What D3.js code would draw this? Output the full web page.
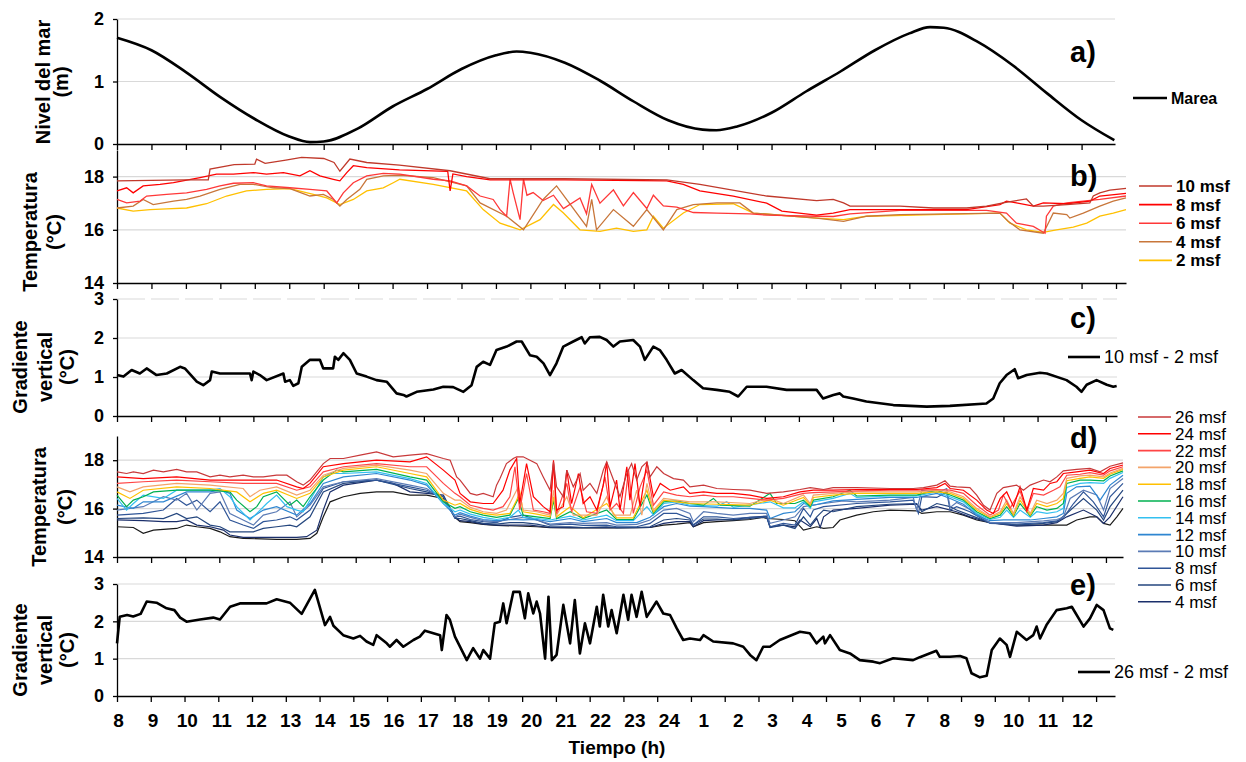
<!DOCTYPE html>
<html>
<head>
<meta charset="utf-8">
<script src="https://cdn.jsdelivr.net/npm/d3@7"></script>
<style>
  body { margin: 0; background: #fff; }
  svg { display: block; }
  text { font-family: "Liberation Sans", Arial, sans-serif; fill: #000; }
</style>
</head>
<body>
<svg id="chart" width="1246" height="762"></svg>
<script>
// hours since 08:00 are used as x; labels are the clock hour
const hourLabels = [8, 9, 10, 11, 12, 13, 14, 15, 16, 17, 18, 19, 20, 21, 22, 23, 24, 1, 2, 3, 4, 5, 6, 7, 8, 9, 10, 11, 12];

// a) sea level (m)
const tide = [[0,1.70],[1,1.50],[2,1.15],[3,0.75],[4,0.40],[5,0.12],[5.6,0.03],[6,0.04],[7,0.25],[8,0.60],[9,0.88],[10,1.20],[11,1.42],[11.6,1.48],[12,1.46],[13,1.30],[14,1.02],[15,0.68],[16,0.38],[17,0.23],[17.4,0.22],[18,0.28],[19,0.50],[20,0.84],[21,1.16],[22,1.50],[23,1.77],[23.6,1.87],[24,1.86],[25,1.63],[26,1.26],[27,0.81],[28,0.38],[28.95,0.06]];

// b) temperature, shallow sensors
const tempB10 = [[0,17.84],[1.0,17.86],[2.0,17.88],[2.65,17.88],[2.7,18.28],[3.4,18.45],[4.0,18.47],[4.05,18.66],[4.3,18.5],[4.9,18.62],[5.36,18.72],[6.0,18.68],[6.3,18.53],[6.47,18.2],[6.76,18.66],[7.25,18.53],[8.2,18.43],[9.67,18.22],[10.83,17.92],[13.0,17.92],[15.96,17.88],[16.92,17.71],[18.86,17.27],[20.31,17.1],[20.79,17.14],[21.09,17.01],[21.28,16.89],[22.73,16.89],[23.7,16.82],[24.66,16.82],[25.24,16.89],[25.72,17.01],[26.02,17.08],[26.4,17.16],[26.6,16.89],[26.89,16.89],[27.57,16.95],[28.24,17.01],[28.34,17.27],[28.53,17.39],[28.82,17.49],[29.29,17.56]];
const tempB8 = [[0,17.46],[0.28,17.58],[0.47,17.39],[0.76,17.65],[1.25,17.71],[1.64,17.77],[2.41,17.96],[2.89,18.09],[3.38,18.09],[3.96,18.15],[4.34,18.09],[4.83,18.15],[5.31,18.03],[5.6,18.22],[5.89,18.03],[6.28,17.9],[6.47,17.84],[6.67,18.15],[6.86,18.41],[7.25,18.34],[8.2,18.25],[9.6,18.2],[9.67,17.46],[9.75,18.1],[10.15,18.0],[10.83,17.88],[13.0,17.88],[15.96,17.84],[16.44,17.71],[16.92,17.46],[17.89,17.27],[18.86,17.0],[19.3,16.7],[20.31,16.55],[20.79,16.63],[21.28,16.76],[22.73,16.76],[24.66,16.76],[25.63,16.95],[25.82,17.08],[26.11,17.01],[26.6,16.89],[26.89,17.01],[27.57,16.98],[28.24,17.08],[28.53,17.27],[29.29,17.37]];
const tempB6 = [[0,17.14],[0.28,17.01],[0.67,17.08],[0.86,17.27],[1.44,17.33],[2.02,17.39],[2.6,17.52],[2.99,17.65],[3.38,17.75],[3.96,17.77],[4.34,17.65],[5.02,17.58],[5.6,17.52],[6.09,17.46],[6.38,17.01],[6.57,17.39],[6.86,17.77],[7.25,18.03],[7.73,18.12],[8.21,18.09],[9.18,17.9],[9.67,17.84],[10.15,17.65],[10.54,17.27],[10.92,17.14],[11.12,16.76],[11.31,16.51],[11.41,17.9],[11.5,17.4],[11.7,16.38],[11.8,17.9],[11.9,17.3],[12.08,17.4],[12.37,17.1],[12.67,17.3],[12.96,16.8],[13.44,17.2],[13.63,16.6],[13.78,17.7],[14.02,17.0],[14.41,17.5],[14.7,16.9],[14.99,17.4],[15.38,16.8],[15.57,17.3],[15.86,16.9],[16.25,16.85],[16.73,16.65],[17.41,16.63],[18.37,16.6],[18.86,16.55],[20.31,16.51],[20.79,16.5],[21.28,16.6],[22.73,16.73],[25.24,16.73],[25.82,16.63],[26.11,16.25],[26.6,16.13],[26.94,15.87],[26.98,16.51],[27.18,16.89],[27.57,17.01],[28.53,17.14],[29.29,17.27]];
const tempB4 = [[0,16.82],[0.47,16.89],[0.76,17.14],[1.05,16.95],[1.64,17.08],[2.02,17.14],[2.41,17.27],[2.99,17.52],[3.57,17.71],[3.96,17.71],[4.54,17.58],[5.02,17.55],[5.6,17.27],[5.99,17.33],[6.28,17.14],[6.47,16.89],[6.67,17.14],[7.05,17.52],[7.25,17.9],[7.73,18.03],[8.21,18.05],[9.18,17.96],[10.15,17.65],[10.54,17.01],[11.31,16.51],[11.8,16.0],[12.37,17.14],[12.76,17.65],[13.05,17.14],[13.63,16.13],[13.78,17.14],[13.92,16.0],[14.41,16.76],[14.99,16.13],[15.38,16.76],[15.86,16.0],[16.25,16.76],[16.73,16.95],[17.41,17.01],[18.08,17.01],[18.47,16.63],[20.31,16.44],[21.09,16.32],[21.76,16.51],[22.73,16.57],[25.63,16.63],[25.87,16.32],[26.21,16.0],[26.89,15.87],[27.18,16.63],[27.57,16.57],[27.66,16.44],[28.05,16.63],[28.53,16.89],[28.92,17.08],[29.29,17.2]];
const tempB2 = [[0,16.82],[0.47,16.7],[0.96,16.76],[1.44,16.79],[2.02,16.82],[2.6,16.98],[3.18,17.27],[3.76,17.46],[4.34,17.52],[5.02,17.55],[5.7,17.33],[6.09,17.2],[6.47,16.95],[6.86,17.14],[7.25,17.46],[7.73,17.58],[8.02,17.77],[8.21,17.9],[9.18,17.71],[10.15,17.46],[10.63,16.76],[11.12,16.25],[11.7,16.0],[12.28,16.38],[12.67,16.95],[12.96,16.63],[13.44,16.0],[14.02,15.94],[14.5,16.06],[14.99,15.94],[15.38,16.0],[15.57,16.51],[15.86,16.06],[16.44,16.63],[16.92,16.95],[17.89,16.98],[18.47,16.63],[20.31,16.44],[21.09,16.38],[21.76,16.51],[23.7,16.57],[25.63,16.63],[25.92,16.25],[26.4,16.0],[26.89,15.9],[27.27,16.0],[27.76,16.1],[28.15,16.25],[28.53,16.51],[28.92,16.63],[29.29,16.76]];

// c) vertical gradient 10 msf - 2 msf
const gradC = [[0,1.05],[0.19,1.01],[0.43,1.18],[0.67,1.09],[0.87,1.22],[1.16,1.05],[1.46,1.09],[1.85,1.26],[1.99,1.22],[2.34,0.88],[2.53,0.79],[2.73,0.92],[2.78,1.14],[3.02,1.09],[3.41,1.09],[3.9,1.09],[3.95,0.92],[4.0,1.14],[4.19,1.05],[4.39,0.92],[4.88,1.09],[4.93,0.88],[5.07,0.92],[5.17,0.77],[5.32,0.84],[5.42,1.26],[5.66,1.44],[5.95,1.44],[6.05,1.22],[6.34,1.22],[6.39,1.52],[6.49,1.44],[6.64,1.61],[6.83,1.44],[7.03,1.09],[7.32,1.01],[7.61,0.92],[7.91,0.88],[8.2,0.58],[8.4,0.54],[8.49,0.5],[8.79,0.62],[9.28,0.68],[9.57,0.75],[9.86,0.74],[10.16,0.62],[10.4,0.79],[10.55,1.26],[10.74,1.39],[10.94,1.31],[11.13,1.69],[11.43,1.78],[11.72,1.91],[11.87,1.91],[12.11,1.56],[12.31,1.52],[12.51,1.35],[12.7,1.05],[12.89,1.35],[13.09,1.78],[13.38,1.91],[13.63,2.02],[13.72,1.86],[13.87,2.02],[14.16,2.03],[14.36,1.95],[14.56,1.78],[14.75,1.91],[15.14,1.95],[15.34,1.78],[15.48,1.44],[15.73,1.78],[15.92,1.69],[16.12,1.44],[16.36,1.09],[16.56,1.18],[16.9,0.92],[17.19,0.71],[17.59,0.67],[17.97,0.62],[18.22,0.5],[18.47,0.75],[19.05,0.75],[19.64,0.67],[20.03,0.67],[20.52,0.67],[20.71,0.45],[21.01,0.54],[21.2,0.58],[21.3,0.5],[21.59,0.45],[21.98,0.37],[22.77,0.28],[23.75,0.24],[24.43,0.26],[25.5,0.32],[25.7,0.45],[25.89,0.84],[26.09,1.05],[26.33,1.2],[26.43,0.97],[26.68,1.05],[27.07,1.11],[27.27,1.09],[27.85,0.92],[28.14,0.75],[28.29,0.62],[28.44,0.8],[28.73,0.92],[29.03,0.8],[29.22,0.75],[29.32,0.77]];

// d) temperature, full column
const tempD26 = [[0,17.52],[0.28,17.45],[0.48,17.52],[0.77,17.45],[1.07,17.59],[1.36,17.52],[1.75,17.62],[2.04,17.52],[2.34,17.52],[2.73,17.31],[3.02,17.38],[3.31,17.31],[3.7,17.38],[4.0,17.31],[4.29,17.31],[4.68,17.38],[4.98,17.38],[5.27,17.11],[5.46,16.97],[5.66,17.18],[6.05,17.86],[6.25,18.07],[6.64,18.07],[7.13,18.21],[7.61,18.34],[8.1,18.14],[8.59,18.21],[9.08,18.27],[9.57,18.07],[9.77,18.0],[9.96,17.31],[10.06,17.18],[10.36,16.63],[10.55,16.56],[10.74,16.63],[11.03,16.49],[11.13,16.97],[11.23,17.24],[11.42,17.86],[11.62,18.07],[11.72,18.14],[11.91,18.14],[12.11,18.0],[12.31,17.86],[12.5,17.31],[12.7,16.76],[12.8,17.93],[12.89,16.9],[13.09,16.49],[13.19,17.59],[13.38,16.9],[13.58,17.45],[13.67,16.76],[13.87,17.04],[14.07,16.63],[14.26,17.59],[14.36,17.93],[14.56,17.18],[14.75,16.49],[14.95,17.45],[15.09,17.86],[15.24,17.18],[15.39,17.73],[15.54,17.93],[15.63,17.31],[15.83,17.73],[16.03,17.45],[16.32,17.24],[16.61,17.18],[16.8,16.9],[17.2,16.97],[17.59,16.83],[18.07,16.79],[18.56,16.76],[19.05,16.63],[19.54,16.69],[20.03,16.79],[20.33,16.87],[20.72,16.79],[21.0,16.87],[21.69,16.87],[22.67,16.83],[23.35,16.83],[23.65,16.87],[24.04,16.97],[24.28,17.15],[24.43,16.93],[24.62,16.9],[25.01,16.87],[25.21,16.56],[25.41,16.14],[25.6,15.94],[25.8,16.63],[25.99,16.87],[26.38,16.97],[26.58,16.76],[26.78,16.97],[27.17,17.18],[27.36,17.11],[27.56,17.31],[27.75,17.56],[28.14,17.62],[28.53,17.66],[28.83,17.52],[29.12,17.75],[29.5,17.89]];
const tempD24 = [[0,17.31],[0.77,17.24],[1.75,17.31],[2.73,17.18],[3.7,17.18],[4.68,17.18],[5.27,16.9],[5.46,16.83],[5.66,17.04],[6.05,17.73],[6.64,17.86],[7.61,18.0],[8.59,17.93],[9.08,18.14],[9.57,17.59],[9.91,17.18],[10.06,16.63],[10.36,16.28],[10.74,16.21],[11.03,16.21],[11.32,16.76],[11.52,17.59],[11.72,18.07],[11.81,16.21],[12.01,17.86],[12.21,16.49],[12.5,16.08],[12.7,15.87],[12.8,18.0],[12.89,15.94],[13.09,16.08],[13.19,17.59],[13.33,16.21],[13.53,17.45],[13.67,16.21],[13.87,16.49],[14.07,15.94],[14.26,16.97],[14.36,17.93],[14.46,16.08],[14.65,17.18],[14.75,15.94],[14.95,17.73],[15.04,16.35],[15.19,17.86],[15.34,16.08],[15.54,17.93],[15.73,16.49],[15.93,17.04],[16.22,16.76],[16.61,16.9],[16.8,16.63],[17.2,16.69],[17.59,16.63],[18.07,16.63],[18.56,16.56],[19.05,16.42],[19.54,16.49],[20.03,16.69],[20.42,16.76],[21.0,16.76],[21.69,16.79],[22.67,16.79],[23.45,16.79],[24.04,16.87],[24.28,17.04],[24.43,16.83],[24.82,16.76],[25.21,16.35],[25.5,15.94],[25.7,15.8],[25.9,16.42],[26.09,16.69],[26.29,16.08],[26.48,16.9],[26.68,15.94],[26.87,16.83],[27.17,16.76],[27.36,17.04],[27.56,17.11],[27.75,17.45],[28.14,17.52],[28.53,17.59],[28.93,17.45],[29.12,17.66],[29.5,17.8]];
const tempD22 = [[0,17.04],[0.77,17.11],[1.75,17.18],[2.73,17.11],[3.7,17.04],[4.68,17.04],[5.27,16.76],[5.66,16.9],[6.05,17.52],[6.64,17.73],[7.61,17.86],[8.59,17.73],[9.08,17.73],[9.57,17.04],[9.91,16.63],[10.06,16.49],[10.36,16.14],[10.74,16.01],[11.03,15.94],[11.32,16.08],[11.52,16.49],[11.67,17.73],[11.81,15.94],[12.01,17.45],[12.21,15.94],[12.5,15.87],[12.7,15.8],[12.8,17.86],[12.89,15.8],[13.19,17.04],[13.33,15.87],[13.58,16.9],[13.77,15.87],[14.07,15.8],[14.31,17.31],[14.46,15.94],[14.65,16.21],[14.85,15.8],[15.0,17.59],[15.14,15.8],[15.34,16.9],[15.54,17.59],[15.73,16.14],[16.03,16.69],[16.41,16.56],[16.8,16.49],[17.2,16.56],[17.59,16.49],[18.07,16.49],[18.56,16.42],[19.05,16.35],[19.54,16.42],[20.13,16.63],[20.42,16.66],[21.0,16.69],[21.69,16.73],[22.67,16.76],[23.45,16.76],[24.04,16.79],[24.43,16.76],[24.82,16.63],[25.21,16.14],[25.6,15.73],[25.85,15.94],[25.99,16.56],[26.19,16.01],[26.48,16.73],[26.68,15.87],[26.87,16.63],[27.17,16.56],[27.46,16.76],[27.65,16.9],[27.85,17.38],[28.24,17.42],[28.53,17.49],[28.93,17.38],[29.12,17.56],[29.5,17.73]];
const tempD20 = [[0,16.9],[0.38,16.69],[0.77,16.9],[1.75,17.04],[2.73,16.97],[3.7,16.83],[3.9,16.49],[4.19,16.76],[4.68,16.9],[5.27,16.56],[5.66,16.76],[6.05,17.38],[6.64,17.66],[7.61,17.8],[8.59,17.59],[9.08,17.45],[9.57,16.63],[9.91,16.35],[10.06,16.35],[10.36,16.05],[10.74,15.87],[11.13,15.8],[11.42,15.94],[11.62,16.49],[11.77,16.9],[11.91,15.94],[12.31,15.87],[12.7,15.73],[12.8,16.76],[12.89,15.73],[13.19,16.49],[13.38,15.73],[13.67,15.73],[14.07,15.73],[14.36,16.49],[14.56,15.73],[15.05,15.73],[15.24,16.76],[15.39,15.73],[15.54,17.04],[15.73,15.94],[16.03,16.42],[16.41,16.35],[16.8,16.28],[17.59,16.28],[18.56,16.21],[19.15,16.42],[19.54,16.21],[20.13,16.56],[20.33,16.21],[20.42,16.56],[21.0,16.63],[21.69,16.69],[22.67,16.69],[23.45,16.69],[24.04,16.76],[24.43,16.69],[24.82,16.49],[25.21,16.01],[25.6,15.66],[25.9,15.87],[26.09,16.35],[26.29,15.8],[26.48,16.49],[26.78,15.8],[26.97,16.35],[27.27,16.21],[27.56,16.35],[27.75,16.63],[27.85,17.25],[28.24,17.35],[28.53,17.38],[28.93,17.31],[29.12,17.47],[29.5,17.66]];
const tempD18 = [[0,16.69],[0.38,16.42],[0.77,16.76],[1.75,16.9],[2.73,16.83],[3.51,16.69],[3.9,16.28],[4.29,16.63],[4.68,16.76],[5.27,16.42],[5.66,16.63],[6.05,17.31],[6.64,17.59],[7.61,17.73],[8.59,17.45],[9.08,17.31],[9.57,16.35],[9.91,16.14],[10.06,16.21],[10.36,15.97],[10.74,15.8],[11.13,15.73],[11.52,15.8],[11.72,16.35],[11.81,16.69],[11.91,15.87],[12.31,15.77],[12.7,15.66],[12.8,16.49],[12.89,15.66],[13.29,16.08],[13.67,15.62],[14.36,16.21],[14.65,15.62],[15.14,15.62],[15.54,16.76],[15.73,15.87],[16.03,16.35],[16.41,16.28],[16.8,16.21],[17.59,16.18],[18.56,16.14],[19.15,16.35],[19.54,16.14],[20.13,16.46],[20.33,16.14],[20.42,16.46],[21.0,16.56],[21.69,16.63],[22.67,16.63],[23.45,16.63],[24.04,16.69],[24.43,16.63],[24.82,16.42],[25.21,15.94],[25.6,15.64],[25.9,15.8],[26.09,16.21],[26.29,15.73],[26.48,16.35],[26.78,15.73],[26.97,16.21],[27.27,16.08],[27.56,16.21],[27.75,16.42],[27.85,17.15],[28.24,17.25],[28.53,17.31],[28.93,17.25],[29.12,17.42],[29.5,17.62]];
const tempD16 = [[0,16.56],[0.28,16.08],[0.48,16.35],[0.77,16.49],[1.07,16.69],[1.75,16.76],[2.73,16.76],[3.31,16.69],[3.51,16.35],[3.9,15.87],[4.1,16.08],[4.29,16.49],[4.68,16.69],[5.07,16.14],[5.27,16.35],[5.46,16.08],[5.66,16.49],[6.05,17.18],[6.44,17.59],[6.64,17.52],[7.61,17.62],[8.59,17.31],[9.08,17.18],[9.57,16.28],[9.91,16.01],[10.06,16.08],[10.36,15.87],[10.74,15.73],[11.13,15.64],[11.52,15.73],[11.77,16.42],[11.91,15.73],[12.31,15.66],[12.7,15.59],[12.8,16.35],[12.89,15.59],[13.29,15.87],[13.67,15.59],[14.36,15.94],[14.65,15.55],[15.14,15.55],[15.54,16.56],[15.73,15.8],[16.03,16.28],[16.41,16.32],[16.8,16.21],[17.2,16.14],[17.49,16.42],[17.69,16.14],[18.56,16.1],[19.15,16.63],[19.34,16.21],[19.88,16.21],[20.13,16.35],[20.33,16.08],[20.42,16.35],[21.0,16.49],[21.49,16.76],[21.69,16.52],[22.67,16.56],[23.45,16.56],[24.04,16.76],[24.43,16.56],[24.82,16.35],[25.21,15.87],[25.6,15.59],[25.9,15.73],[26.09,16.08],[26.29,15.69],[26.48,16.21],[26.78,15.69],[26.97,16.08],[27.27,15.94],[27.56,16.01],[27.75,16.21],[27.85,17.04],[28.24,17.18],[28.53,17.18],[28.93,17.15],[29.12,17.35],[29.5,17.56]];
const tempD14 = [[0,16.42],[0.28,15.94],[0.48,16.21],[0.77,16.56],[1.36,16.42],[1.75,16.76],[2.73,16.76],[3.02,16.83],[3.31,16.49],[3.51,16.08],[3.9,15.53],[4.1,15.8],[4.39,16.21],[4.68,16.56],[4.98,16.08],[5.27,15.94],[5.46,15.87],[5.66,16.35],[6.05,17.31],[6.25,17.45],[6.64,17.45],[7.61,17.52],[8.59,17.24],[9.08,17.04],[9.57,16.21],[9.91,15.87],[10.06,15.94],[10.36,15.77],[10.74,15.64],[11.13,15.55],[11.52,15.64],[11.77,15.94],[11.91,15.64],[12.31,15.59],[12.7,15.53],[13.29,15.69],[13.67,15.53],[14.36,15.73],[14.65,15.5],[15.14,15.5],[15.54,16.08],[15.73,15.73],[16.03,16.21],[16.41,16.28],[16.8,16.14],[17.59,16.1],[17.88,16.28],[18.07,16.05],[19.15,16.28],[19.54,16.03],[19.88,16.03],[20.13,16.28],[20.33,16.01],[20.42,16.28],[21.0,16.42],[21.49,16.63],[21.69,16.46],[22.67,16.52],[23.45,16.52],[24.04,16.69],[24.43,16.49],[24.82,16.28],[25.21,15.8],[25.6,15.55],[25.9,15.64],[26.09,15.94],[26.29,15.64],[26.48,15.94],[26.78,15.64],[26.97,15.87],[27.27,15.8],[27.56,15.87],[27.75,16.01],[27.85,16.87],[28.24,17.04],[28.53,17.07],[28.93,17.04],[29.12,17.25],[29.5,17.49]];
const tempD12 = [[0,16.14],[0.48,16.01],[0.77,16.28],[1.36,16.28],[2.04,16.69],[2.73,16.69],[3.02,16.76],[3.31,16.63],[3.51,15.94],[3.9,15.59],[4.29,15.94],[4.68,16.08],[5.27,15.73],[5.66,16.21],[6.05,17.04],[6.64,17.31],[7.61,17.45],[8.59,17.18],[9.08,16.97],[9.57,16.21],[9.91,15.73],[10.06,15.83],[10.36,15.69],[10.74,15.55],[11.13,15.5],[11.52,15.55],[11.91,15.53],[12.31,15.55],[12.7,15.46],[13.29,15.59],[13.67,15.46],[14.36,15.59],[14.65,15.42],[15.24,15.42],[15.63,15.64],[16.03,16.08],[16.41,16.21],[16.8,16.1],[17.2,16.08],[17.59,16.05],[18.07,16.01],[18.56,16.01],[19.05,15.94],[19.15,15.59],[19.54,15.8],[19.88,15.87],[20.13,16.21],[20.42,16.14],[21.0,16.32],[21.69,16.38],[22.67,16.46],[23.45,16.46],[24.04,16.63],[24.43,16.42],[24.82,16.18],[25.21,15.73],[25.6,15.5],[26.0,15.53],[26.78,15.53],[27.17,15.59],[27.56,15.66],[27.75,15.8],[27.85,16.63],[28.14,16.9],[28.53,16.93],[28.83,16.35],[29.12,16.97],[29.5,17.38]];
const tempD10 = [[0,15.94],[0.77,16.08],[1.36,16.49],[1.75,16.35],[2.04,16.63],[2.34,15.94],[2.73,16.63],[3.02,16.69],[3.31,15.8],[3.7,15.53],[4.0,15.32],[4.29,15.73],[4.68,15.87],[5.07,16.28],[5.27,15.66],[5.66,16.14],[6.05,16.9],[6.64,17.11],[7.61,17.24],[8.59,16.97],[9.08,16.83],[9.57,16.35],[9.91,15.66],[10.06,15.77],[10.36,15.64],[10.74,15.5],[11.13,15.46],[11.52,15.55],[11.91,15.64],[12.31,15.53],[12.7,15.36],[13.29,15.42],[13.67,15.39],[14.36,15.42],[14.65,15.32],[15.24,15.35],[15.63,15.53],[16.03,15.94],[16.41,16.01],[16.8,15.8],[16.9,15.46],[17.2,15.87],[17.59,15.8],[18.07,15.73],[18.56,15.8],[19.05,15.8],[19.15,15.39],[19.54,15.53],[19.88,15.66],[20.13,16.08],[20.72,16.21],[21.3,16.32],[21.69,16.28],[22.67,16.35],[23.35,16.46],[23.45,15.94],[23.6,16.76],[24.04,16.65],[24.33,16.83],[24.43,16.05],[24.62,16.25],[25.01,15.97],[25.6,15.42],[26.38,15.42],[27.17,15.49],[27.56,15.55],[27.75,15.64],[27.95,16.42],[28.34,16.76],[28.73,16.56],[28.93,15.94],[29.12,16.83],[29.5,17.24]];
const tempD8 = [[0,15.73],[0.77,15.8],[1.36,15.94],[1.75,16.42],[2.04,16.14],[2.34,16.35],[2.73,15.87],[3.02,16.28],[3.31,15.53],[3.7,15.32],[4.0,15.18],[4.29,15.46],[4.68,15.53],[5.07,15.66],[5.27,15.53],[5.66,15.94],[6.05,16.83],[6.64,17.11],[7.61,17.18],[8.59,16.9],[9.08,16.76],[9.57,16.49],[9.91,15.64],[10.06,15.69],[10.36,15.55],[10.74,15.46],[11.13,15.42],[11.52,15.64],[11.91,15.73],[12.31,15.53],[12.7,15.32],[13.29,15.36],[13.67,15.31],[14.36,15.32],[14.65,15.25],[15.24,15.25],[15.63,15.39],[16.03,15.8],[16.41,15.8],[16.8,15.59],[16.9,15.32],[17.2,15.66],[17.59,15.66],[18.07,15.59],[18.56,15.64],[19.05,15.66],[19.15,15.25],[19.54,15.39],[19.88,15.32],[20.13,16.01],[20.33,15.66],[20.42,15.94],[20.72,16.08],[21.69,16.21],[22.67,16.28],[23.35,16.35],[23.5,15.8],[23.6,16.49],[24.04,16.46],[24.33,16.69],[24.43,15.94],[24.62,16.08],[25.01,15.87],[25.6,15.39],[26.38,15.36],[27.17,15.42],[27.56,15.49],[27.75,15.62],[28.05,16.21],[28.34,16.69],[28.63,16.28],[28.93,15.66],[29.12,16.49],[29.5,17.04]];
const tempD6 = [[0,15.59],[0.77,15.62],[1.36,15.59],[1.75,15.8],[2.04,15.59],[2.34,15.66],[2.73,15.32],[3.02,15.25],[3.31,15.04],[4.0,15.04],[4.29,15.18],[4.68,15.25],[5.07,15.32],[5.27,15.25],[5.66,15.66],[6.05,16.69],[6.64,17.04],[7.61,17.18],[8.59,16.83],[9.08,16.69],[9.57,16.49],[9.91,15.59],[10.06,15.59],[10.36,15.5],[10.74,15.39],[11.13,15.36],[11.52,15.42],[11.91,15.42],[12.31,15.36],[12.7,15.25],[13.29,15.25],[13.67,15.22],[14.36,15.25],[14.65,15.21],[15.24,15.22],[15.63,15.25],[16.03,15.53],[16.41,15.59],[16.8,15.53],[16.9,15.32],[17.2,15.57],[17.59,15.57],[18.07,15.53],[18.56,15.59],[19.05,15.66],[19.15,15.22],[19.54,15.32],[19.88,15.18],[20.13,15.66],[20.33,15.32],[20.52,15.66],[20.72,15.94],[21.0,15.87],[21.69,16.08],[22.67,16.18],[23.45,16.21],[23.6,15.87],[24.04,16.21],[24.43,16.08],[24.62,15.94],[25.01,15.73],[25.6,15.42],[26.38,15.32],[27.17,15.39],[27.56,15.46],[27.85,15.8],[28.34,16.42],[28.73,15.94],[28.93,15.53],[29.12,16.08],[29.5,16.76]];
const tempD4 = [[0,15.53],[0.77,15.5],[1.36,15.46],[1.75,15.46],[2.04,15.53],[2.34,15.32],[2.73,15.25],[3.12,15.11],[3.31,14.91],[3.7,14.81],[4.68,14.81],[5.27,14.81],[5.56,14.84],[5.86,15.11],[6.05,15.94],[6.25,16.69],[6.64,16.97],[7.61,17.18],[8.1,17.04],[8.59,16.69],[9.08,16.63],[9.57,16.56],[9.91,15.64],[10.06,15.5],[10.36,15.46],[10.74,15.36],[11.13,15.32],[11.52,15.32],[12.11,15.32],[12.7,15.22],[13.29,15.21],[14.36,15.21],[15.24,15.21],[15.63,15.22],[16.03,15.39],[16.41,15.46],[16.8,15.46],[16.9,15.25],[17.2,15.5],[17.59,15.53],[18.07,15.55],[18.56,15.64],[19.05,15.69],[19.15,15.25],[19.54,15.32],[19.88,15.25],[20.03,15.53],[20.33,15.25],[20.52,15.59],[20.62,15.22],[20.72,15.66],[21.0,15.94],[21.69,16.01],[22.67,16.14],[23.45,16.18],[23.6,15.94],[24.04,16.08],[24.62,15.87],[25.01,15.66],[25.6,15.42],[26.38,15.28],[27.17,15.32],[27.56,15.42],[27.85,15.66],[28.34,15.94],[28.73,15.66],[28.93,15.39],[29.12,15.66],[29.5,16.49]];
const tempD2 = [[0,15.25],[0.48,15.22],[0.77,14.98],[1.07,15.11],[1.75,15.18],[2.04,15.32],[2.34,15.25],[2.73,15.18],[3.02,15.04],[3.31,14.84],[3.7,14.77],[4.68,14.73],[5.27,14.73],[5.66,14.77],[5.86,14.98],[6.05,15.66],[6.25,16.28],[6.64,16.49],[7.13,16.63],[7.61,16.69],[8.1,16.69],[8.59,16.56],[9.08,16.56],[9.57,16.42],[9.91,15.64],[10.06,15.46],[10.36,15.42],[10.74,15.35],[11.13,15.31],[11.72,15.28],[12.31,15.25],[12.7,15.21],[13.67,15.2],[14.65,15.2],[15.24,15.21],[15.63,15.22],[16.03,15.32],[16.41,15.36],[16.8,15.42],[16.9,15.25],[17.2,15.42],[17.59,15.46],[18.07,15.5],[18.56,15.55],[18.94,15.64],[19.05,15.59],[19.54,15.55],[19.88,15.5],[20.13,15.11],[20.52,15.25],[20.72,15.18],[21.0,15.22],[21.2,15.53],[21.69,15.73],[22.18,15.87],[22.67,15.94],[23.45,15.91],[23.6,15.8],[24.04,15.87],[24.43,15.87],[24.82,15.73],[25.21,15.53],[25.6,15.42],[26.38,15.32],[27.17,15.32],[27.85,15.32],[28.14,15.53],[28.53,15.66],[28.73,15.66],[28.93,15.39],[29.12,15.32],[29.32,15.66],[29.5,16.01]];

// e) vertical gradient 26 msf - 2 msf
const gradE = [[0,1.41],[0.08,2.12],[0.3,2.17],[0.48,2.13],[0.7,2.2],[0.88,2.53],[1.17,2.5],[1.47,2.35],[1.7,2.3],[1.87,2.1],[2.06,1.99],[2.46,2.05],[2.85,2.1],[3.05,2.05],[3.35,2.39],[3.64,2.48],[4.43,2.48],[4.73,2.59],[5.12,2.5],[5.47,2.2],[5.86,2.84],[6.16,1.9],[6.31,2.12],[6.41,1.88],[6.7,1.63],[7.0,1.54],[7.2,1.61],[7.39,1.46],[7.59,1.37],[7.69,1.63],[7.99,1.41],[8.08,1.32],[8.28,1.5],[8.48,1.32],[8.78,1.5],[8.97,1.59],[9.12,1.75],[9.57,1.63],[9.62,1.23],[9.76,2.17],[9.86,2.04],[10.01,1.59],[10.36,0.96],[10.55,1.28],[10.75,1.0],[10.85,1.23],[11.05,1.0],[11.19,1.95],[11.34,1.99],[11.44,2.48],[11.54,1.95],[11.74,2.79],[11.93,2.79],[12.08,2.08],[12.18,2.75],[12.33,2.21],[12.43,2.53],[12.53,2.21],[12.68,1.0],[12.78,2.66],[12.88,0.96],[13.02,1.1],[13.22,2.44],[13.42,1.41],[13.56,2.57],[13.71,1.14],[13.86,1.95],[14.01,1.41],[14.21,2.39],[14.3,1.86],[14.4,2.71],[14.55,1.86],[14.65,2.3],[14.8,1.68],[15.0,2.71],[15.14,2.04],[15.24,2.71],[15.39,2.12],[15.54,2.79],[15.69,2.12],[15.98,2.53],[16.18,2.21],[16.38,2.17],[16.58,1.81],[16.77,1.5],[16.97,1.54],[17.27,1.5],[17.37,1.63],[17.66,1.46],[18.25,1.41],[18.55,1.32],[18.75,1.1],[18.94,0.96],[19.14,1.32],[19.34,1.32],[19.63,1.5],[20.23,1.72],[20.52,1.68],[20.72,1.41],[20.92,1.59],[20.97,1.41],[21.12,1.63],[21.41,1.23],[21.71,1.14],[22.0,0.96],[22.4,0.92],[22.6,0.88],[22.99,1.01],[23.58,0.96],[23.78,1.04],[24.27,1.21],[24.37,1.05],[24.67,1.05],[24.97,1.07],[25.16,1.01],[25.31,0.61],[25.56,0.5],[25.76,0.54],[25.91,1.23],[26.15,1.54],[26.35,1.37],[26.45,1.05],[26.65,1.72],[26.94,1.5],[27.14,1.63],[27.24,1.86],[27.34,1.54],[27.53,1.9],[27.83,2.3],[28.13,2.35],[28.28,2.39],[28.63,1.86],[28.82,2.08],[29.02,2.44],[29.22,2.3],[29.41,1.81],[29.51,1.77]];

const namesB = ['10 msf', '8 msf', '6 msf', '4 msf', '2 msf'];
const seriesB = [tempB10, tempB8, tempB6, tempB4, tempB2];
const colorsB = ['#c0392b', '#ff0000', '#ff3838', '#c8763a', '#ffc000'];

const namesD = ['26 msf', '24 msf', '22 msf', '20 msf', '18 msf', '16 msf', '14 msf', '12 msf', '10 msf', '8 msf', '6 msf', '4 msf', '2 msf'];
const seriesD = [tempD26, tempD24, tempD22, tempD20, tempD18, tempD16, tempD14, tempD12, tempD10, tempD8, tempD6, tempD4, tempD2];
const colorsD = ['#c8393a', '#ff0000', '#ff4545', '#f4a46a', '#ffc000', '#00b050', '#33c0f0', '#2e86d1', '#5b7bb5', '#2f5597', '#24467e', '#1b2f6b', '#1a1a1a'];

const svg = d3.select('#chart');
const left = 117;

function makePanel(p) {
  const x = d3.scaleLinear().domain([0, p.tMax]).range([left, p.right]);
  const y = d3.scaleLinear().domain(p.yDomain).range([p.bottom, p.top]);
  const g = svg.append('g');

  g.selectAll('line.grid')
    .data(p.grid)
    .enter()
    .append('line')
    .attr('x1', left).attr('x2', p.right)
    .attr('y1', d => y(d)).attr('y2', d => y(d))
    .attr('stroke', '#d9d9d9')
    .attr('stroke-width', 1.2)
    .attr('stroke-dasharray', d => (p.dashed || []).includes(d) ? '28,6' : null);

  const xa = g.append('g')
    .attr('transform', 'translate(0,' + p.bottom + ')')
    .call(d3.axisBottom(x).tickValues(d3.range(0, Math.floor(p.tMax) + 1)).tickFormat('').tickSizeInner(6).tickSizeOuter(0));
  const ya = g.append('g')
    .attr('transform', 'translate(' + left + ',0)')
    .call(d3.axisLeft(y).tickValues(p.yTicks).tickFormat(d3.format('d')).tickSizeInner(4).tickSizeOuter(0).tickPadding(9));
  [xa, ya].forEach(a => {
    a.selectAll('path, line').attr('stroke', '#000').attr('stroke-width', 1.3);
    a.selectAll('text').attr('font-size', 18).attr('font-weight', 'bold')
      .attr('font-family', '"Liberation Sans", Arial, sans-serif').attr('fill', '#000');
  });

  const line = d3.line().x(d => x(d[0])).y(d => y(d[1]));
  return { x, y, g, line };
}

function yTitle(lines, xs, cy) {
  lines.forEach((s, i) => {
    svg.append('text')
      .attr('transform', 'translate(' + xs[i] + ',' + cy + ') rotate(-90)')
      .attr('text-anchor', 'middle')
      .attr('font-size', 20)
      .attr('font-weight', 'bold')
      .text(s);
  });
}

function panelTag(s, y) {
  svg.append('text').attr('x', 1070).attr('y', y)
    .attr('font-size', 29).attr('font-weight', 'bold').text(s);
}

function legendRow(x1, x2, y, color, width, label, size, weight) {
  svg.append('line').attr('x1', x1).attr('x2', x2).attr('y1', y).attr('y2', y)
    .attr('stroke', color).attr('stroke-width', width);
  svg.append('text').attr('x', x2 + 4).attr('y', y).attr('dy', '0.35em')
    .attr('font-size', size).attr('font-weight', weight).text(label);
}

// ---- a) tide
const pa = makePanel({ tMax: 28.97, right: 1115, yDomain: [0, 2], top: 19, bottom: 144, grid: [1, 2], yTicks: [0, 1, 2] });
pa.g.append('path').datum(tide)
  .attr('d', pa.line.curve(d3.curveMonotoneX))
  .attr('fill', 'none').attr('stroke', '#000').attr('stroke-width', 2.6);
yTitle(['Nivel del mar', '(m)'], [50, 68], 82);
panelTag('a)', 62);
legendRow(1133, 1167, 98, '#000', 2.6, 'Marea', 16, 'bold');

// ---- b) temperature 10-2 msf
const pb = makePanel({ tMax: 29.29, right: 1126, yDomain: [14, 19], top: 150, bottom: 283, grid: [16, 18], yTicks: [14, 16, 18] });
seriesB.slice().reverse().forEach((s, i) => {
  const k = seriesB.length - 1 - i;
  pb.g.append('path').datum(s).attr('d', pb.line)
    .attr('fill', 'none').attr('stroke', colorsB[k]).attr('stroke-width', 1.3);
});
yTitle(['Temperatura', '(°C)'], [37, 61], 232);
panelTag('b)', 186);
namesB.forEach((n, i) => legendRow(1139, 1172, 186 + i * 18.6, colorsB[i], 1.6, n, 17, 'bold'));

// ---- c) gradient 10-2 msf
const pc = makePanel({ tMax: 29.33, right: 1117, yDomain: [0, 3], top: 299, bottom: 416, grid: [1, 2, 3], dashed: [3], yTicks: [0, 1, 2, 3] });
pc.g.append('path').datum(gradC).attr('d', pc.line)
  .attr('fill', 'none').attr('stroke', '#000').attr('stroke-width', 2.6).attr('stroke-linejoin', 'round');
yTitle(['Gradiente', 'vertical', '(°C)'], [27, 52, 74], 367);
panelTag('c)', 328);
legendRow(1068, 1100, 357, '#000', 2.6, '10 msf - 2 msf', 18, 'normal');

// ---- d) temperature 26-2 msf
const pd = makePanel({ tMax: 29.5, right: 1123, yDomain: [14, 19], top: 436, bottom: 557, grid: [16, 18], yTicks: [14, 16, 18] });
seriesD.slice().reverse().forEach((s, i) => {
  const k = seriesD.length - 1 - i;
  pd.g.append('path').datum(s).attr('d', pd.line)
    .attr('fill', 'none').attr('stroke', colorsD[k]).attr('stroke-width', 1.2);
});
yTitle(['Temperatura', '(°C)'], [46, 72], 507);
panelTag('d)', 448);
namesD.slice(0, 12).forEach((n, i) => legendRow(1138, 1171, 417 + i * 16.8, colorsD[i], 1.6, n, 17, 'normal'));

// ---- e) gradient 26-2 msf
const pe = makePanel({ tMax: 29.56, right: 1115, yDomain: [0, 3], top: 584, bottom: 696, grid: [1, 2, 3], yTicks: [0, 1, 2, 3] });
pe.g.append('path').datum(gradE).attr('d', pe.line)
  .attr('fill', 'none').attr('stroke', '#000').attr('stroke-width', 2.6).attr('stroke-linejoin', 'round');
yTitle(['Gradiente', 'vertical', '(°C)'], [27, 52, 74], 650);
panelTag('e)', 595);
legendRow(1078, 1110, 672, '#000', 2.6, '26 msf - 2 msf', 18, 'normal');

// hour labels under the last panel
const labelX = d3.scaleLinear().domain([0, hourLabels.length - 1]).range([118, 1082]);
const hx = svg.append('g')
  .attr('transform', 'translate(0,696)')
  .call(d3.axisBottom(labelX).tickValues(d3.range(hourLabels.length)).tickFormat(i => hourLabels[i]).tickSize(0).tickPadding(18));
hx.select('.domain').remove();
hx.selectAll('text').attr('font-size', 19).attr('font-weight', 'bold')
  .attr('font-family', '"Liberation Sans", Arial, sans-serif').attr('fill', '#000');

svg.append('text').attr('x', 617).attr('y', 754).attr('text-anchor', 'middle')
  .attr('font-size', 19).attr('font-weight', 'bold').text('Tiempo (h)');
</script>
</body>
</html>
